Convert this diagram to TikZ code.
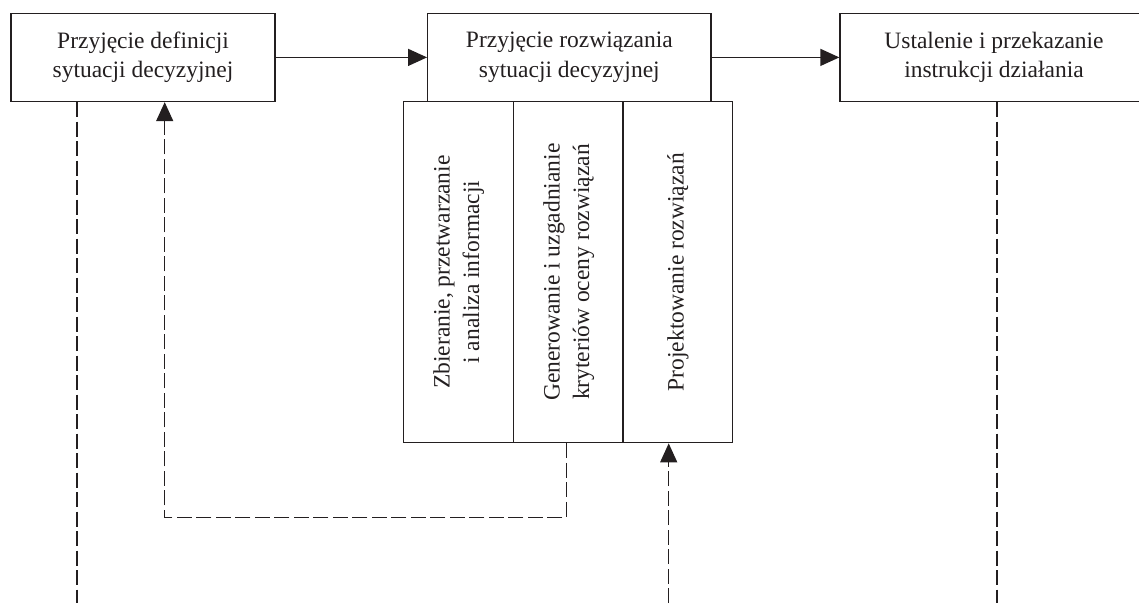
\documentclass[tikz,border=0pt]{standalone}
\usepackage{fontspec}
\setmainfont{Liberation Serif}
\usetikzlibrary{arrows.meta,calc}
\definecolor{ink}{RGB}{35,31,32}
\tikzset{
  box/.style={draw=ink, line width=1.3pt, rectangle, inner sep=0pt, align=center,
    text=ink, font=\fontsize{23.5}{29.5}\selectfont},
  colbox/.style={box, minimum width=110pt, minimum height=341.2pt},
  flow/.style={draw=ink, line width=1.3pt, -{Triangle[length=19pt,width=17pt]}},
  feed/.style={draw=ink, line width=1.3pt, dash pattern=on 15pt off 4.5pt},
  feedarrow/.style={feed, -{Triangle[length=19pt,width=17pt]}},
}
\newcommand{\vtext}[1]{\rotatebox{90}{\begin{tabular}{@{}c@{}}#1\end{tabular}}}
\begin{document}
\begin{tikzpicture}[x=1pt,y=-1pt]
\useasboundingbox (0,0) rectangle (1139,603);
\node[box, minimum width=264pt, minimum height=88.2pt] (b1) at (143,57.4)
  {Przyjęcie definicji\\sytuacji decyzyjnej};
\node[box, minimum width=283.3pt, minimum height=88.2pt] (b2) at (569.35,57.4)
  {Przyjęcie rozwiązania\\sytuacji decyzyjnej};
\node[box, minimum width=308pt, minimum height=88.2pt] (b3) at (994,57.4)
  {Ustalenie i przekazanie\\instrukcji działania};
\node[colbox] (c1) at (458.5,272.1) {\vtext{Zbieranie, przetwarzanie\\i analiza informacji}};
\node[colbox] (c2) at (568.35,272.1) {\vtext{Generowanie i uzgadnianie\\kryteriów oceny rozwiązań}};
\node[colbox] (c3) at (677.7,272.1) {\vtext{Projektowanie rozwiązań}};
\draw[flow] (b1) -- (b2);
\draw[flow] (b2) -- (b3);
\coordinate (e1) at (77,603);
\coordinate (e3) at (668.7,603);
\coordinate (e4) at (997,603);
\coordinate (k1) at (566.3,517.3);
\coordinate (k2) at (164.7,517.3);
\draw[feed] (e1 |- b1.south) -- (e1);
\draw[feed] (e4 |- b3.south) -- (e4);
\draw[feedarrow] (k1 |- c2.south) -- (k1) -- (k2) -- (k2 |- b1.south);
\draw[feedarrow] (e3) -- (e3 |- c3.south);
\end{tikzpicture}
\end{document}
